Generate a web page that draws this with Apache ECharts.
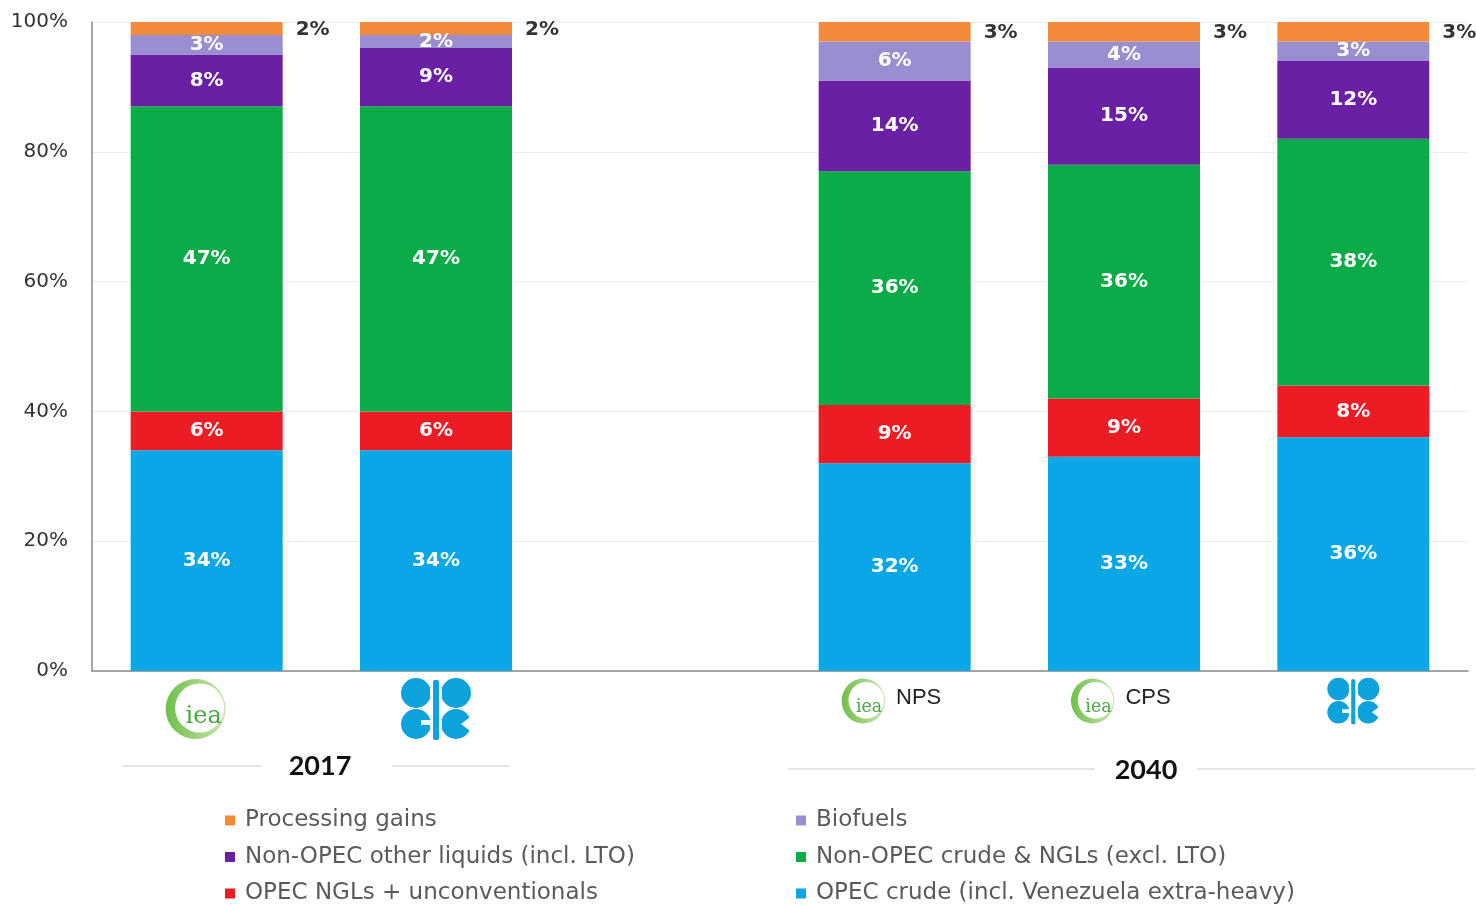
<!DOCTYPE html>
<html>
<head>
<meta charset="utf-8">
<script src="https://cdn.jsdelivr.net/npm/echarts@6/dist/echarts.min.js"></script>
<style>
  html, body { margin: 0; padding: 0; background: #fff; }
  #chart { width: 1476px; height: 906px; }
</style>
</head>
<body>
<div id="chart"></div>
<script>
// categories (the empty one is the gap between 2017 and 2040)
const categories = ['IEA 2017', 'OPEC 2017', '', 'IEA NPS 2040', 'IEA CPS 2040', 'OPEC 2040']

// shares in %, bottom to top
const opecCrude     = [34, 34, '-', 32, 33, 36]
const opecNgls      = [6, 6, '-', 9, 9, 8]
const nonOpecCrude  = [47, 47, '-', 36, 36, 38]
const nonOpecOther  = [8, 9, '-', 14, 15, 12]
const biofuels      = [3, 2, '-', 6, 4, 3]
const processing    = [2, 2, '-', 3, 3, 3]

const yTicks = [0, 20, 40, 60, 80, 100]

const seriesDefs = [
  { name: 'OPEC crude (incl. Venezuela extra-heavy)', data: opecCrude, color: '#0aa6e6' },
  { name: 'OPEC NGLs + unconventionals', data: opecNgls, color: '#ec1c24' },
  { name: 'Non-OPEC crude & NGLs (excl. LTO)', data: nonOpecCrude, color: '#0bab48' },
  { name: 'Non-OPEC other liquids (incl. LTO)', data: nonOpecOther, color: '#6a20a4' },
  { name: 'Biofuels', data: biofuels, color: '#9a8dd0' },
  { name: 'Processing gains', data: processing, color: '#f28a3c' }
]

// logos as inline svg (no network)
const ieaSvg = '<svg xmlns="http://www.w3.org/2000/svg" width="72" height="64" viewBox="0 0 72 64">' +
  '<defs><linearGradient id="g" x1="0" x2="1" y1="0" y2="0"><stop offset="0" stop-color="#6fbf4a"/><stop offset="1" stop-color="#c8e6b0"/></linearGradient></defs>' +
  '<circle cx="35" cy="32" r="30" fill="url(#g)"/><circle cx="39" cy="31" r="24.5" fill="#fff"/>' +
  '<text x="43" y="46" font-family="DejaVu Serif, serif" font-size="24" fill="#4aa842" text-anchor="middle">iea</text></svg>'

const opecSvg = '<svg xmlns="http://www.w3.org/2000/svg" width="74" height="64" viewBox="0 0 74 64">' +
  '<g fill="#0ea2dc"><circle cx="17" cy="16" r="15"/><circle cx="57" cy="16" r="15"/>' +
  '<rect x="34" y="3" width="6" height="60" rx="2"/>' +
  '<circle cx="17" cy="47" r="15"/><circle cx="57" cy="47" r="15"/></g>' +
  '<g fill="#fff"><rect x="22" y="43" width="12" height="5"/><polygon points="74,38 62,47 74,56"/>' +
  '<rect x="31" y="0" width="3" height="64"/><rect x="40" y="0" width="3" height="64"/></g></svg>'

const toUrl = s => 'data:image/svg+xml;charset=utf-8,' + encodeURIComponent(s)

const chart = echarts.init(document.getElementById('chart'))

const sans = '"DejaVu Sans", sans-serif'
const titleFont = 'Lato, "Open Sans", sans-serif'

const legendBase = {
  top: 809, height: 110, orient: 'vertical', itemGap: 13.5, padding: 0,
  icon: 'rect', itemWidth: 10, itemHeight: 10,
  textStyle: { fontSize: 23, color: '#5a5a5a', fontFamily: sans, padding: [0, 0, 0, 5] }
}

chart.setOption({
  animation: false,
  textStyle: { fontFamily: sans },
  grid: { left: 92, right: 8, top: 22, bottom: 235 },
  legend: [
    Object.assign({}, legendBase, {
      left: 225,
      data: ['Processing gains', 'Non-OPEC other liquids (incl. LTO)', 'OPEC NGLs + unconventionals']
    }),
    Object.assign({}, legendBase, {
      left: 796,
      data: ['Biofuels', 'Non-OPEC crude & NGLs (excl. LTO)', 'OPEC crude (incl. Venezuela extra-heavy)']
    })
  ],
  xAxis: {
    type: 'category',
    data: categories,
    axisLine: { lineStyle: { color: '#8a8a8a', width: 1.5 } },
    axisTick: { show: false },
    axisLabel: {
      interval: 0,
      margin: 6,
      formatter: v => {
        if (v === 'IEA 2017') return '{ieaBig|}{pad|}'
        if (v === 'OPEC 2017') return '{opecBig|}'
        if (v === 'IEA NPS 2040') return '{ieaSmall|}{txt|NPS}{pad2|}'
        if (v === 'IEA CPS 2040') return '{ieaSmall|}{txt|CPS}{pad2|}'
        if (v === 'OPEC 2040') return '{opecSmall|}'
        return ''
      },
      rich: {
        ieaBig: { width: 72, height: 64, backgroundColor: { image: toUrl(ieaSvg) } },
        pad: { width: 20 },
        pad2: { width: 10 },
        opecBig: { width: 74, height: 64, backgroundColor: { image: toUrl(opecSvg) } },
        ieaSmall: { width: 52, height: 48, backgroundColor: { image: toUrl(ieaSvg) } },
        opecSmall: { width: 55, height: 48, backgroundColor: { image: toUrl(opecSvg) } },
        txt: { fontSize: 22, color: '#222', fontFamily: '"Liberation Sans", Arial, sans-serif', padding: [0, 0, 6, 6] }
      }
    }
  },
  yAxis: {
    type: 'value',
    min: yTicks[0],
    max: yTicks[yTicks.length - 1],
    interval: 20,
    axisLine: { show: true, lineStyle: { color: '#8a8a8a', width: 1.5 } },
    axisTick: { show: false },
    splitLine: { lineStyle: { color: '#ececec' } },
    axisLabel: { formatter: '{value}%', fontSize: 20, color: '#333', margin: 24, fontFamily: sans }
  },
  series: seriesDefs.map((s, i) => ({
    name: s.name,
    type: 'bar',
    stack: 'total',
    barWidth: 152,
    data: s.data,
    itemStyle: { color: s.color },
    label: i === seriesDefs.length - 1
      ? { show: true, position: 'right', distance: 13, offset: [0, 1], formatter: '{c}%', fontSize: 20, fontWeight: 'bold', color: '#333', fontFamily: sans }
      : { show: true, position: 'inside', formatter: '{c}%', fontSize: 20, fontWeight: 'bold', color: '#fff', fontFamily: sans }
  })),
  graphic: [
    { type: 'line', shape: { x1: 122, y1: 766, x2: 262, y2: 766 }, style: { stroke: '#dcdcdc', lineWidth: 1.5 } },
    { type: 'line', shape: { x1: 392, y1: 766, x2: 510, y2: 766 }, style: { stroke: '#dcdcdc', lineWidth: 1.5 } },
    { type: 'text', x: 320, y: 766, style: { text: '2017', font: 'bold 27px ' + titleFont, fill: '#111', textAlign: 'center', textVerticalAlign: 'middle' } },
    { type: 'line', shape: { x1: 788, y1: 769, x2: 1095, y2: 769 }, style: { stroke: '#dcdcdc', lineWidth: 1.5 } },
    { type: 'line', shape: { x1: 1197, y1: 769, x2: 1475, y2: 769 }, style: { stroke: '#dcdcdc', lineWidth: 1.5 } },
    { type: 'text', x: 1146, y: 770, style: { text: '2040', font: 'bold 27px ' + titleFont, fill: '#111', textAlign: 'center', textVerticalAlign: 'middle' } }
  ]
})
</script>
</body>
</html>
